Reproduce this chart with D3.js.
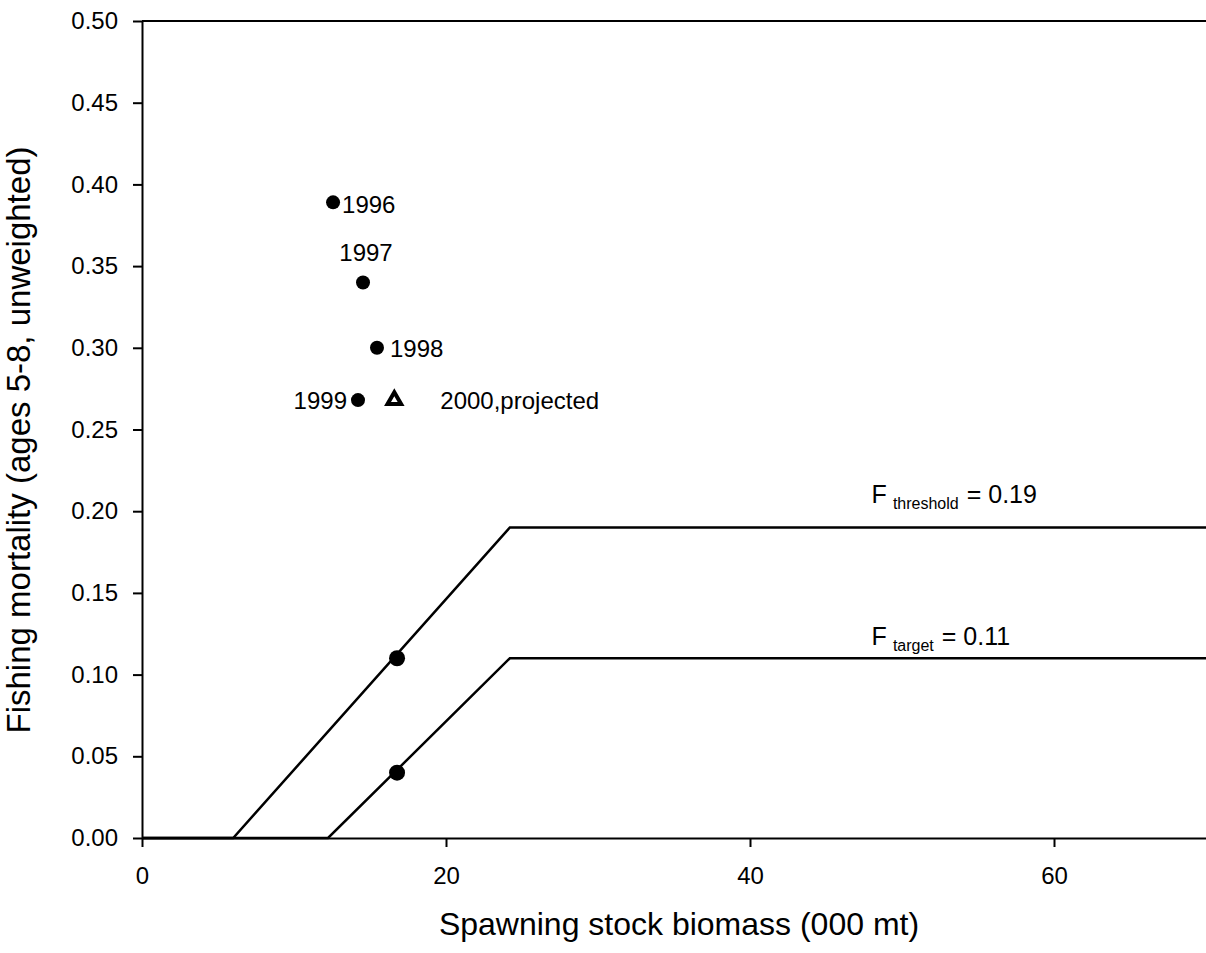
<!DOCTYPE html>
<html>
<head>
<meta charset="utf-8">
<script src="https://cdn.jsdelivr.net/npm/d3@7"></script>
<style>
  body { margin: 0; background: #fff; }
  text { font-family: "Liberation Sans", Arial, sans-serif; fill: #000; }
</style>
</head>
<body>
<script>
// Observed stock status by year
const years = ["1996", "1997", "1998", "1999"];
const ssb = [12.57, 14.54, 15.46, 14.21];
const fMort = [0.389, 0.340, 0.300, 0.268];

// Projected point
const projSsb = [16.6];
const projF = [0.268];
const projLabel = ["2000,projected"];

// Control rules (x = SSB, y = F)
const thresholdX = [0, 6.0, 24.2, 70];
const thresholdY = [0, 0, 0.19, 0.19];
const targetX = [0, 12.24, 24.2, 70];
const targetY = [0, 0, 0.11, 0.11];

// Points marked on the rules
const markX = [16.78, 16.78];
const markY = [0.110, 0.040];

const xTicks = [0, 20, 40, 60];
const yTicks = [0, 0.05, 0.10, 0.15, 0.20, 0.25, 0.30, 0.35, 0.40, 0.45, 0.50];

const width = 1206, height = 953;
const margin = {left: 142, top: 21, right: 0, bottom: 115};
const w = width - margin.left - margin.right;
const h = height - margin.top - margin.bottom;

const x = d3.scaleLinear().domain([0, 70]).range([0, w]);
const y = d3.scaleLinear().domain([0, 0.5]).range([h, 0]);

const svg = d3.select("body").append("svg")
    .attr("width", width)
    .attr("height", height);

const g = svg.append("g")
    .attr("transform", `translate(${margin.left}, ${margin.top})`);

// Axes
const yAxis = g.append("g")
    .call(d3.axisLeft(y).tickValues(yTicks).tickFormat(d3.format(".2f"))
        .tickSize(9).tickSizeOuter(0).tickPadding(15));
const xAxis = g.append("g")
    .attr("transform", `translate(0, ${h})`)
    .call(d3.axisBottom(x).tickValues(xTicks).tickFormat(d3.format("d"))
        .tickSize(9).tickSizeOuter(0).tickPadding(20));
[xAxis, yAxis].forEach((a) => {
    a.selectAll("path, line").attr("stroke", "#000").attr("stroke-width", 2);
    a.selectAll("text").attr("font-size", 24)
        .attr("font-family", '"Liberation Sans", Arial, sans-serif');
});

// top frame line
g.append("line")
    .attr("x1", 0).attr("x2", w)
    .attr("y1", 0).attr("y2", 0)
    .attr("stroke", "#000").attr("stroke-width", 2);

// Control rule lines
const line = d3.line().x((d) => x(d[0])).y((d) => y(d[1]));
[[thresholdX, thresholdY], [targetX, targetY]].forEach(([xs, ys]) => {
    g.append("path")
        .datum(xs.map((v, i) => [v, ys[i]]))
        .attr("d", line)
        .attr("fill", "none")
        .attr("stroke", "#000")
        .attr("stroke-width", 2.5);
});

g.selectAll("circle.mark")
    .data(markX.map((v, i) => [v, markY[i]]))
    .enter().append("circle")
    .attr("class", "mark")
    .attr("cx", (d) => x(d[0]))
    .attr("cy", (d) => y(d[1]))
    .attr("r", 8)
    .attr("fill", "#000");

// Observed points
const obs = years.map((yr, i) => ({year: yr, x: ssb[i], f: fMort[i]}));
g.selectAll("circle.obs")
    .data(obs)
    .enter().append("circle")
    .attr("class", "obs")
    .attr("cx", (d) => x(d.x))
    .attr("cy", (d) => y(d.f))
    .attr("r", 7)
    .attr("fill", "#000");

// label offsets per year: [dx, dy, anchor]
const labelPos = {
    "1996": [9, 11, "start"],
    "1997": [3, -21, "middle"],
    "1998": [13, 9, "start"],
    "1999": [-11, 9, "end"]
};
g.selectAll("text.yr")
    .data(obs)
    .enter().append("text")
    .attr("class", "yr")
    .attr("x", (d) => x(d.x) + labelPos[d.year][0])
    .attr("y", (d) => y(d.f) + labelPos[d.year][1])
    .attr("text-anchor", (d) => labelPos[d.year][2])
    .attr("font-size", 24)
    .text((d) => d.year);

// Projected triangle
const tri = d3.symbol().type(d3.symbolTriangle).size(80);
g.selectAll("path.proj")
    .data(projSsb.map((v, i) => [v, projF[i]]))
    .enter().append("path")
    .attr("class", "proj")
    .attr("d", tri)
    .attr("transform", (d) => `translate(${x(d[0])}, ${y(d[1])})`)
    .attr("fill", "#fff")
    .attr("stroke", "#000")
    .attr("stroke-width", 4);
g.append("text")
    .attr("x", x(projSsb[0]) + 46)
    .attr("y", y(projF[0]) + 9)
    .attr("font-size", 24)
    .text(projLabel[0]);

// Reference point labels
function refLabel(sub, val, fy, dy) {
    const t = g.append("text")
        .attr("x", x(48))
        .attr("y", y(fy) + dy)
        .attr("font-size", 25);
    t.append("tspan").text("F");
    t.append("tspan").attr("font-size", 16).attr("dy", 6).attr("dx", 6).text(sub);
    t.append("tspan").attr("dy", -6).attr("dx", 8).text("= " + val);
}
refLabel("threshold", "0.19", 0.19, -25);
refLabel("target", "0.11", 0.11, -13);

// Axis titles
svg.append("text")
    .attr("x", 679)
    .attr("y", 935)
    .attr("text-anchor", "middle")
    .attr("font-size", 32)
    .text("Spawning stock biomass (000 mt)");
svg.append("text")
    .attr("transform", "rotate(-90)")
    .attr("x", -440)
    .attr("y", 30)
    .attr("text-anchor", "middle")
    .attr("font-size", 33)
    .text("Fishing mortality (ages 5-8, unweighted)");
</script>
</body>
</html>
